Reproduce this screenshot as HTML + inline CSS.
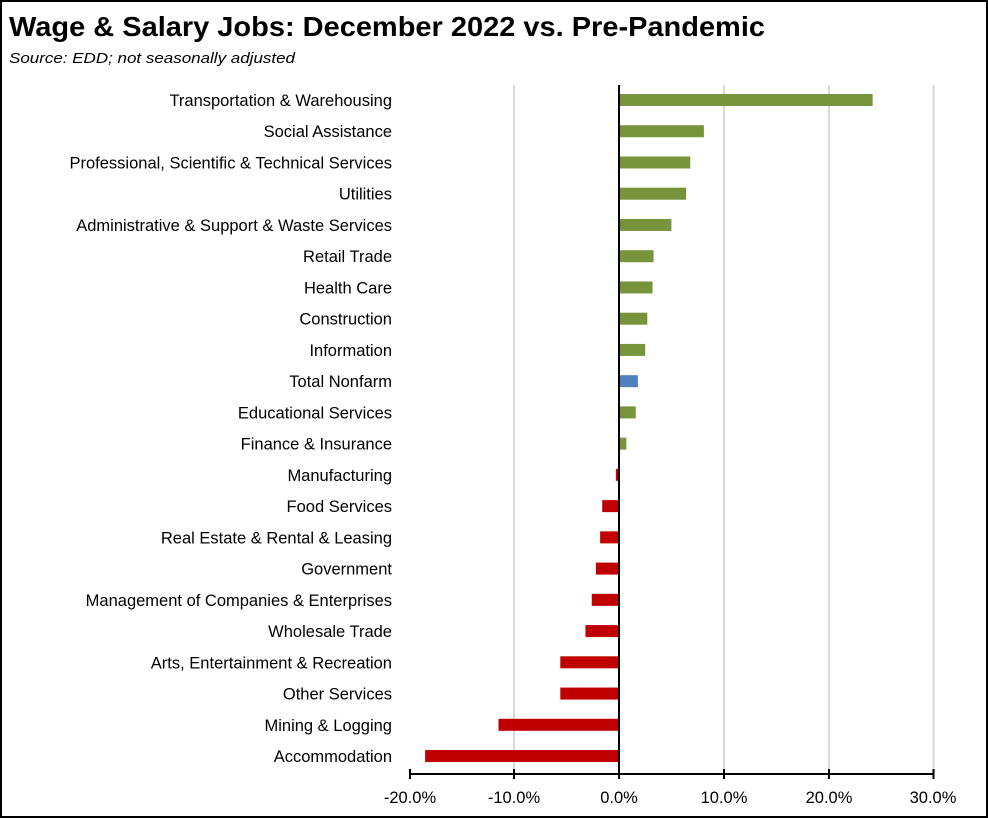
<!DOCTYPE html>
<html><head><meta charset="utf-8"><style>
html,body{margin:0;padding:0;background:#fff;}
svg{display:block;font-family:"Liberation Sans",sans-serif;}
</style></head><body>
<svg width="988" height="819" xmlns="http://www.w3.org/2000/svg">
<rect x="1" y="1" width="986" height="816" fill="#fff" stroke="#000" stroke-width="2"/>
<text x="9" y="36" font-size="28" font-weight="bold" textLength="756" lengthAdjust="spacingAndGlyphs">Wage &amp; Salary Jobs:  December 2022 vs. Pre-Pandemic</text>
<text x="9" y="63" font-size="15" font-style="italic" textLength="286" lengthAdjust="spacingAndGlyphs">Source:  EDD; not seasonally adjusted</text>
<g stroke="#d9d9d9" stroke-width="2">
<line x1="514" y1="85" x2="514" y2="774"/>
<line x1="724" y1="85" x2="724" y2="774"/>
<line x1="829" y1="85" x2="829" y2="774"/>
<line x1="933.5" y1="85" x2="933.5" y2="774"/>
</g>
<g id="bars"></g>
<line x1="619" y1="85" x2="619" y2="774" stroke="#000" stroke-width="2"/>
<line x1="409" y1="774" x2="934" y2="774" stroke="#000" stroke-width="2"/>
<g stroke="#000" stroke-width="2">
<line x1="410" y1="769" x2="410" y2="779"/><line x1="514" y1="769" x2="514" y2="779"/>
<line x1="619" y1="769" x2="619" y2="779"/><line x1="724" y1="769" x2="724" y2="779"/>
<line x1="829" y1="769" x2="829" y2="779"/><line x1="933.5" y1="769" x2="933.5" y2="779"/>
</g>
<g font-size="16.5" text-anchor="middle" fill="#000">
<text x="410" y="803">-20.0%</text><text x="514" y="803">-10.0%</text><text x="619" y="803">0.0%</text>
<text x="724" y="803">10.0%</text><text x="829" y="803">20.0%</text><text x="933" y="803">30.0%</text>
</g>
<g id="labels" font-size="16.5" text-anchor="end" fill="#000"></g>
<script>
var d=[["Transportation & Warehousing",24.2],["Social Assistance",8.1],["Professional, Scientific & Technical Services",6.8],["Utilities",6.4],["Administrative & Support & Waste Services",5.0],["Retail Trade",3.3],["Health Care",3.2],["Construction",2.7],["Information",2.5],["Total Nonfarm",1.8],["Educational Services",1.6],["Finance & Insurance",0.7],["Manufacturing",-0.3],["Food Services",-1.6],["Real Estate & Rental & Leasing",-1.8],["Government",-2.2],["Management of Companies & Enterprises",-2.6],["Wholesale Trade",-3.2],["Arts, Entertainment & Recreation",-5.6],["Other Services",-5.6],["Mining & Logging",-11.5],["Accommodation",-18.5]];
var ns="http://www.w3.org/2000/svg",b=document.getElementById("bars"),l=document.getElementById("labels");
d.forEach(function(r,i){var y=100+i*31.24;var w=r[1]*10.48;
var c=r[1]>=0?(r[0]=="Total Nonfarm"?"#4f81bd":"#77933c"):"#c00000";
var e=document.createElementNS(ns,"rect");e.setAttribute("x",w>=0?619:619+w);e.setAttribute("y",y-6);e.setAttribute("width",Math.abs(w));e.setAttribute("height",12);e.setAttribute("fill",c);b.appendChild(e);
var t=document.createElementNS(ns,"text");t.setAttribute("x",392);t.setAttribute("y",y+6);t.textContent=r[0];l.appendChild(t);});
</script>
</svg>
</body></html>
